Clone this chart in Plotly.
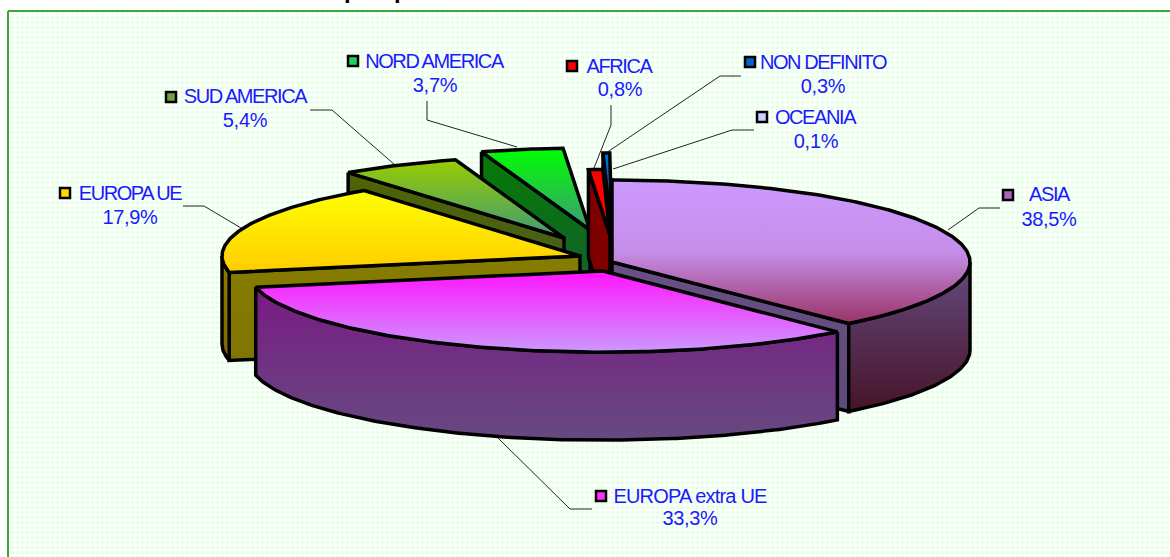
import numpy as np
import plotly.graph_objects as go

categories = ["ASIA", "EUROPA extra UE", "EUROPA UE", "SUD AMERICA", "NORD AMERICA", "AFRICA", "NON DEFINITO", "OCEANIA"]
shares = [38.5, 33.3, 17.9, 5.4, 3.7, 0.8, 0.3, 0.1]
share_labels = ["38,5%", "33,3%", "17,9%", "5,4%", "3,7%", "0,8%", "0,3%", "0,1%"]

W, H = 1170, 557
RX, RY, DEPTH = 358, 82, 88
INK = "#000000"
LABEL = "#1a1aff"

# apex x, apex y, radial factor
PLACE = {
    "ASIA": (612, 262, 1), "EUROPA extra UE": (603, 271, .99), "EUROPA UE": (580, 256, 1),
    "SUD AMERICA": (564, 238, 1), "NORD AMERICA": (590, 230, 1), "AFRICA": (610, 235, .8),
    "NON DEFINITO": (612, 235, 1), "OCEANIA": (612, 262, 1),
}
# top gradient, outer wall gradient, radial wall gradient (each listed from top to bottom)
PAINT = {
    "ASIA": (["#cc99ff", "#c58ee8", "#993366"], ["#644a80", "#461428"], ["#6a4f85", "#5c4a78"]),
    "EUROPA extra UE": (["#ff14ff", "#cc99ff"], ["#7a1a85", "#664a80"], ["#7a1a85", "#664a80"]),
    "EUROPA UE": (["#ffff00", "#ffcc00"], ["#8a7c00", "#7f6800"], ["#867c00", "#807600"]),
    "SUD AMERICA": (["#99cc00", "#3f9a78"], ["#506400", "#3f5c30"], ["#506400", "#3f5c30"]),
    "NORD AMERICA": (["#00ff00", "#3f9a78"], ["#067a06", "#165c34"], ["#067a06", "#165c34"]),
    "AFRICA": (["#ff0000", "#ff0000"], ["#800000", "#800000"], ["#800000", "#800000"]),
    "NON DEFINITO": (["#0070d8", "#0060c0"], ["#003a70", "#003060"], ["#003a70", "#003060"]),
    "OCEANIA": (["#ccccff", "#ccccff"], ["#66667f", "#66667f"], ["#66667f", "#66667f"]),
}
KEY = {"ASIA": "#b060c0", "EUROPA extra UE": "#ff30ff", "EUROPA UE": "#ffd800", "SUD AMERICA": "#70a040",
       "NORD AMERICA": "#20d060", "AFRICA": "#ff0000", "NON DEFINITO": "#0066cc", "OCEANIA": "#ccccff"}
# name centre x, name y, value centre x, value y, key x, key y
TEXT = {
    "ASIA": (1049, 196, 1049, 221, 1008, 195),
    "EUROPA extra UE": (690, 498, 690, 520, 601, 496),
    "EUROPA UE": (130, 195, 130, 219, 65, 193),
    "SUD AMERICA": (245, 98, 245, 122, 171, 97),
    "NORD AMERICA": (434, 63, 435, 87, 353, 61),
    "AFRICA": (619, 68, 620, 91, 572, 66),
    "NON DEFINITO": (823, 64, 823, 88, 750, 62),
    "OCEANIA": (815, 119, 816, 143, 762, 117),
}
LEADERS = {
    "ASIA": ([1000, 979, 948], [208, 208, 230]),
    "EUROPA extra UE": ([592, 570, 497], [509, 509, 437]),
    "EUROPA UE": ([183, 204, 241], [206, 206, 228]),
    "SUD AMERICA": ([310, 332, 395], [110, 110, 165]),
    "NORD AMERICA": ([427, 427, 517], [101, 120, 147]),
    "AFRICA": ([611, 611, 594], [105, 125, 168]),
    "NON DEFINITO": ([741, 720, 606], [76, 76, 153]),
    "OCEANIA": ([754, 732, 613], [130, 130, 169]),
}
DRAW_ORDER = ["OCEANIA", "NON DEFINITO", "NORD AMERICA", "SUD AMERICA", "AFRICA", "EUROPA UE", "ASIA", "EUROPA extra UE"]

edges = np.concatenate([[0], np.cumsum(shares)]) / np.sum(shares) * 2 * np.pi
span = {c: (edges[i], edges[i + 1]) for i, c in enumerate(categories)}


def rim(c, a0, a1):
    cx, cy, k = PLACE[c]
    t = np.linspace(a0, a1, max(2, int(abs(a1 - a0) * 90)))
    return cx + k * RX * np.sin(t), cy - k * RY * np.cos(t)


def scale(colors):
    # the y axis runs downward, so the gradient's first stop is the bottom of the shape
    colors = colors[::-1]
    return [[i / (len(colors) - 1), col] for i, col in enumerate(colors)]


def poly(x, y, colors, lw=3.5):
    x = list(x) + [x[0]]
    y = list(y) + [y[0]]
    return go.Scatter(x=x, y=y, mode="lines", fill="toself", hoverinfo="skip", showlegend=False,
                      line=dict(color=INK, width=lw),
                      fillgradient=dict(type="vertical", colorscale=scale(colors)))


fig = go.Figure()

# panel
fig.add_trace(go.Scatter(x=[8, 1172, 1172, 8, 8], y=[11, 11, 559, 559, 11], mode="lines", fill="toself",
                         hoverinfo="skip", showlegend=False, line=dict(color="#3fa53f", width=2),
                         fillcolor="#ffffff",
                         fillpattern=dict(shape=".", size=5, solidity=0.55, fgcolor="#d0ffd0", bgcolor="#ffffff")))

# leaders
for c in categories:
    lx, ly = LEADERS[c]
    fig.add_trace(go.Scatter(x=lx, y=ly, mode="lines", hoverinfo="skip", showlegend=False,
                             line=dict(color="#222222", width=1)))

# pie
for c in DRAW_ORDER:
    a0, a1 = span[c]
    cx, cy, k = PLACE[c]
    top, outer, wall = PAINT[c]
    x0, y0 = rim(c, a0, a0)
    x1, y1 = rim(c, a1, a1)
    # radial walls that face the viewer
    if a0 > np.pi:
        fig.add_trace(poly([x0[0], cx, cx, x0[0]], [y0[0], cy, cy + DEPTH, y0[0] + DEPTH], wall))
    if c == "ASIA":
        fig.add_trace(poly([x1[0], cx, cx, x1[0]], [y1[0], cy, cy + DEPTH, y1[0] + DEPTH], wall))
    # outer wall on the near half of the rim
    w0, w1 = max(a0, np.pi / 2), min(a1, 1.5 * np.pi)
    if w1 > w0:
        rx, ry = rim(c, w0, w1)
        fig.add_trace(poly(np.r_[rx, rx[::-1]], np.r_[ry, ry[::-1] + DEPTH], outer))
    # top face
    rx, ry = rim(c, a0, a1)
    fig.add_trace(poly(np.r_[cx, rx], np.r_[cy, ry], top))

# labels
names = go.Scatter(x=[TEXT[c][0] for c in categories], y=[TEXT[c][1] for c in categories], text=categories,
                   mode="text", hoverinfo="skip", showlegend=False,
                   textfont=dict(family="Liberation Sans", size=20, color=LABEL))
vals = go.Scatter(x=[TEXT[c][2] for c in categories], y=[TEXT[c][3] for c in categories], text=share_labels,
                  mode="text", hoverinfo="skip", showlegend=False,
                  textfont=dict(family="Liberation Sans", size=20, color=LABEL))
keys = go.Scatter(x=[TEXT[c][4] for c in categories], y=[TEXT[c][5] for c in categories], mode="markers",
                  hoverinfo="skip", showlegend=False,
                  marker=dict(symbol="square", size=10, color=[KEY[c] for c in categories],
                              line=dict(color=INK, width=2.5)))
fig.add_traces([names, vals, keys])

fig.update_layout(width=W, height=H, autosize=False, margin=dict(l=0, r=0, t=0, b=0),
                  paper_bgcolor="#ffffff", plot_bgcolor="#ffffff", showlegend=False,
                  xaxis=dict(range=[0, W], visible=False, fixedrange=True),
                  yaxis=dict(range=[H, 0], visible=False, fixedrange=True),
                  annotations=[dict(x=x, y=5, xref="x", yref="y", text="<b>p</b>", showarrow=False,
                                    yanchor="bottom", font=dict(family="Liberation Sans", size=24, color="#000000"))
                               for x in (351, 401)])
POST = """
document.body.style.margin = '0';
document.querySelectorAll('.textpoint text').forEach(function (t) {
  var s = t.textContent;
  t.style.letterSpacing = /%/.test(s) ? '-0.3px' : (/extra/.test(s) ? '-0.8px' : '-1.4px');
});
"""
fig.write_html("out.html", config=dict(displayModeBar=False), post_script=POST)
